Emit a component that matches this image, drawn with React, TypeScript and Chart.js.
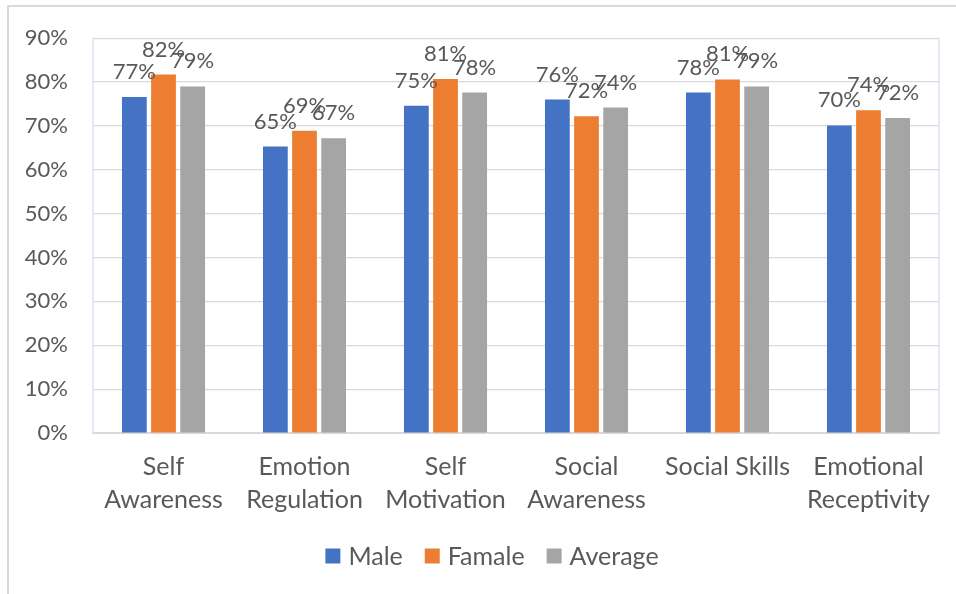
import { useEffect, useRef } from "react";
import { Chart, registerables } from "chart.js";

Chart.register(...registerables);

const categories: (string | string[])[] = [
  ["Self", "Awareness"],
  ["Emotion", "Regulation"],
  ["Self", "Motivation"],
  ["Social", "Awareness"],
  "Social Skills",
  ["Emotional", "Receptivity"],
];
const maleValues = [76.6, 65.3, 74.6, 76.0, 77.6, 70.1];
const femaleValues = [81.7, 68.9, 80.7, 72.2, 80.6, 73.6];
const averageValues = [79.0, 67.2, 77.6, 74.2, 79.0, 71.8];
const seriesNames = ["Male", "Famale", "Average"];
const seriesColors = ["#4472C4", "#ED7D31", "#A5A5A5"];
const yMin = 0;
const yMax = 90;
const yStep = 10;

const FONT = "Lato, 'Open Sans', sans-serif";
const TEXT = "#595959";

const labelPlugin = {
  id: "valueLabels",
  afterDatasetsDraw(chart: any) {
    const ctx = chart.ctx;
    ctx.save();
    ctx.font = `22px ${FONT}`;
    ctx.fillStyle = TEXT;
    ctx.textAlign = "center";
    ctx.textBaseline = "alphabetic";
    chart.data.datasets.forEach((ds: any, i: number) => {
      const meta = chart.getDatasetMeta(i);
      meta.data.forEach((bar: any, j: number) => {
        const v = ds.data[j];
        ctx.fillText(Math.round(v) + "%", bar.x, bar.y - 18);
      });
    });
    ctx.restore();
  },
};

const framePlugin = {
  id: "plotFrame",
  beforeDatasetsDraw(chart: any) {
    const { ctx, chartArea } = chart;
    ctx.save();
    ctx.strokeStyle = "#DAE3F3";
    ctx.lineWidth = 1.5;
    ctx.beginPath();
    ctx.moveTo(chartArea.left, chartArea.bottom);
    ctx.lineTo(chartArea.left, chartArea.top);
    ctx.moveTo(chartArea.right, chartArea.bottom);
    ctx.lineTo(chartArea.right, chartArea.top);
    ctx.stroke();
    ctx.restore();
  },
};

const legendPlugin = {
  id: "customLegend",
  afterDraw(chart: any) {
    const ctx = chart.ctx;
    ctx.save();
    ctx.font = `25px ${FONT}`;
    const box = 15;
    const gap = 8;
    const spacing = 22;
    const items = chart.data.datasets.map((ds: any) => ({
      label: ds.label,
      color: ds.backgroundColor,
      w: box + gap + ctx.measureText(ds.label).width,
    }));
    const total = items.reduce((s: number, it: any) => s + it.w, 0) + spacing * (items.length - 1);
    let x = 492 - total / 2;
    const y = 556;
    ctx.textBaseline = "middle";
    ctx.textAlign = "left";
    items.forEach((it: any) => {
      ctx.fillStyle = it.color;
      ctx.fillRect(x, y - box / 2, box, box);
      ctx.fillStyle = TEXT;
      ctx.fillText(it.label, x + box + gap, y + 1);
      x += it.w + spacing;
    });
    ctx.restore();
  },
};

export default function App() {
  const canvasRef = useRef<HTMLCanvasElement>(null);

  useEffect(() => {
    if (!canvasRef.current) return;
    const seriesValues = [maleValues, femaleValues, averageValues];
    const chart = new Chart(canvasRef.current, {
      type: "bar",
      data: {
        labels: categories,
        datasets: seriesNames.map((name, i) => ({
          label: name,
          data: seriesValues[i],
          backgroundColor: seriesColors[i],
          barPercentage: 0.85,
          categoryPercentage: 0.62,
        })),
      },
      options: {
        animation: false,
        responsive: false,
        maintainAspectRatio: false,
        layout: { padding: { top: 35, right: 17, left: 0, bottom: 0 } },
        plugins: {
          legend: { display: false },
          tooltip: { enabled: false },
        },
        scales: {
          x: {
            grid: { display: false, drawTicks: false },
            border: { display: true, color: "#D9D9D9", width: 2 },
            ticks: {
              color: TEXT,
              font: { family: FONT, size: 25, lineHeight: 1.3 },
              padding: 18,
              maxRotation: 0,
              minRotation: 0,
              autoSkip: false,
            },
            afterFit(axis: any) {
              axis.height = 161;
            },
          },
          y: {
            min: yMin,
            max: yMax,
            grid: { color: "#D9D9D9", lineWidth: 1.2, drawTicks: false },
            border: { display: false },
            ticks: {
              stepSize: yStep,
              color: TEXT,
              font: { family: FONT, size: 22 },
              padding: 25,
              callback: (v: any) => v + "%",
            },
            afterFit(axis: any) {
              axis.width = 93;
            },
          },
        },
      },
      plugins: [framePlugin, labelPlugin, legendPlugin],
    });
    return () => chart.destroy();
  }, []);

  return (
    <div style={{ position: "fixed", left: 0, top: 0, width: 956, height: 594, background: "#fff", overflow: "hidden" }}>
      <div
        style={{
          position: "absolute",
          left: 7,
          top: 5,
          width: 1000,
          height: 700,
          borderTop: "2px solid #D9D9D9",
          borderLeft: "2px solid #D9D9D9",
        }}
      />
      <canvas ref={canvasRef} width={956} height={594} style={{ position: "absolute", left: 0, top: 0, width: 956, height: 594 }} />
    </div>
  );
}
